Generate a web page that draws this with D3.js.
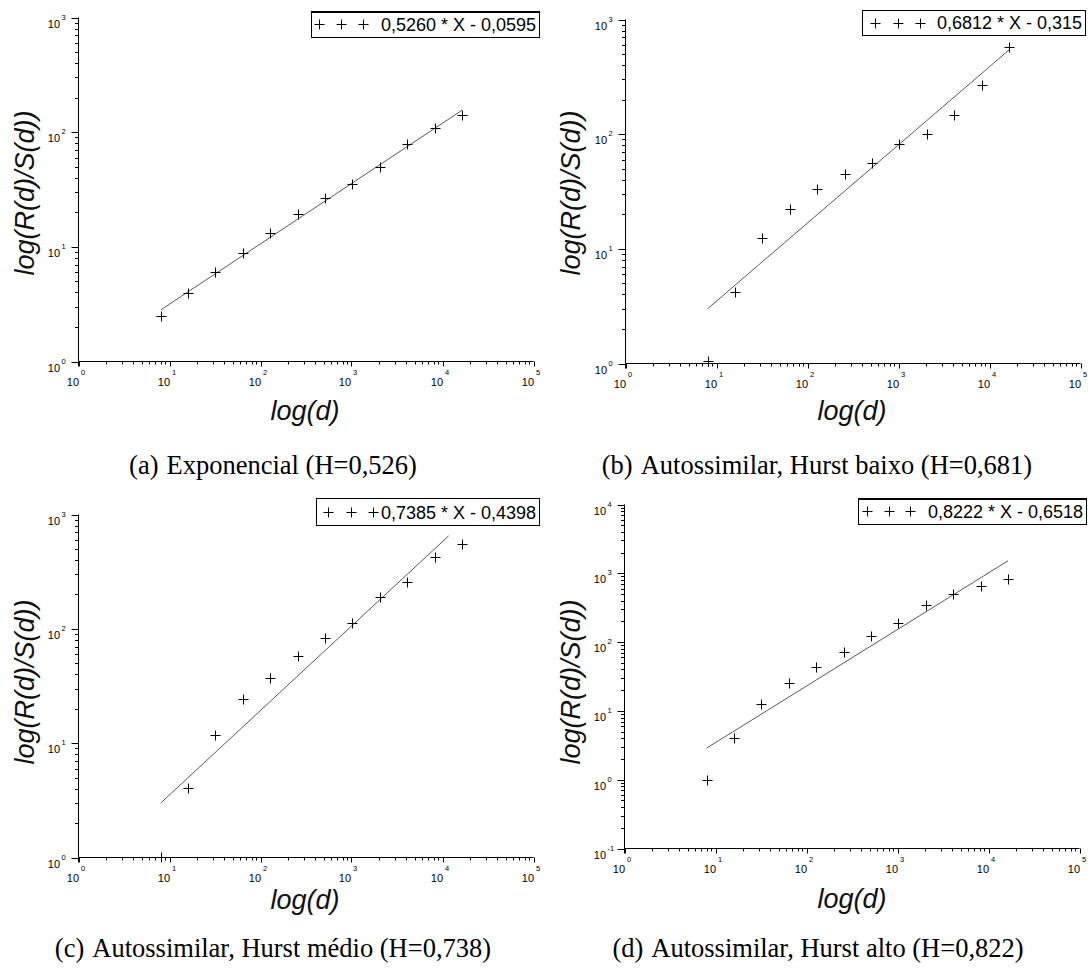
<!DOCTYPE html>
<html>
<head>
<meta charset="utf-8">
<script src="https://cdn.jsdelivr.net/npm/d3@7"></script>
<style>
  html, body { margin: 0; padding: 0; background: #fff; }
  svg { display: block; }
</style>
</head>
<body>
<script>
// ---------------- data ----------------
const dValues = [8, 16, 32, 64, 128, 256, 512, 1024, 2048, 4096, 8192, 16384];
const seriesA = [2.50, 3.96, 6.0, 8.8, 13.1, 19.5, 26.4, 35.1, 50, 79, 108, 142];
const seriesB = [1.05, 4.2, 12.4, 22.1, 33.0, 44.9, 55.6, 81.3, 100.7, 148, 267, 573];
const seriesC = [1.01, 4.05, 11.8, 24.1, 37.3, 57.6, 83.4, 112.8, 191, 259, 426, 553];
const seriesD = [0.98, 4.03, 12.5, 25.5, 43.6, 73, 123, 187, 341, 493, 645, 815];
const fitSlopes = [0.5260, 0.6812, 0.7385, 0.8222];
const fitIntercepts = [-0.0595, -0.315, -0.4398, -0.6518];
const fitEnds = [16384, 16384, 11700, 16384];
const legendLabels = ["0,5260 * X - 0,0595", "0,6812 * X - 0,315", "0,7385 * X - 0,4398", "0,8222 * X - 0,6518"];
const captionLabels = ["(a)", "(b)", "(c)", "(d)"];
const captionTexts = ["Exponencial (H=0,526)", "Autossimilar, Hurst baixo (H=0,681)", "Autossimilar, Hurst médio (H=0,738)", "Autossimilar, Hurst alto (H=0,822)"];
const xTickExps = [0, 1, 2, 3, 4, 5];
const yTickExpsABC = [0, 1, 2, 3];
const yTickExpsD = [-1, 0, 1, 2, 3, 4];
const xTitle = "log(d)";
const yTitle = "log(R(d)/S(d))";

// ---------------- layout ----------------
const W = 1088, H = 969;
const svg = d3.select("body").append("svg").attr("width", W).attr("height", H);

const panels = [
  { series: seriesA, yExps: yTickExpsABC, x0: 78.5, x1: 533.5, yb: 361.5, yt: 17.5,
    box: [311, 11, 539, 37], plus: [319, 341, 363], thick: true,
    xl: [305, 420], yl: [34, 193], cap: [273, 474] },
  { series: seriesB, yExps: yTickExpsABC, x0: 625.5, x1: 1080.5, yb: 363.5, yt: 19.5,
    box: [862, 10, 1085, 35], plus: [874.5, 898, 920], thick: false,
    xl: [852, 420], yl: [580, 193], cap: [817, 474] },
  { series: seriesC, yExps: yTickExpsABC, x0: 78.5, x1: 533.5, yb: 857.5, yt: 514.5,
    box: [316, 498, 539, 525], plus: [328, 351, 373], thick: false,
    xl: [305, 909], yl: [34, 682], cap: [273, 957] },
  { series: seriesD, yExps: yTickExpsD, x0: 624.5, x1: 1079.5, yb: 848.5, yt: 504.5,
    box: [858, 498, 1086, 524], plus: [866.5, 889, 910], thick: true,
    xl: [852, 908], yl: [580, 682], cap: [818, 957] }
];

const sansFont = "'Liberation Sans', Arial, sans-serif";
const serifFont = "'Liberation Serif', 'Times New Roman', serif";

function minorValues(lo, hi) {
  const out = [];
  for (let e = Math.floor(Math.log10(lo)); e < Math.ceil(Math.log10(hi)); e++) {
    for (let m = 2; m <= 9; m++) {
      const v = m * Math.pow(10, e);
      if (v > lo && v < hi) out.push(v);
    }
  }
  return out;
}

function plus(g, cx, cy, r) {
  g.append("path")
    .attr("d", `M${cx - r},${cy}H${cx + r}M${cx},${cy - r}V${cy + r}`)
    .attr("stroke", "#000").attr("stroke-width", 1).attr("fill", "none");
}

panels.forEach((p, i) => {
  const g = svg.append("g");
  const yLo = Math.pow(10, d3.min(p.yExps)), yHi = Math.pow(10, d3.max(p.yExps));
  const x = d3.scaleLog().domain([1, 1e5]).range([p.x0, p.x1]);
  const y = d3.scaleLog().domain([yLo, yHi]).range([p.yb, p.yt]);

  // axes lines
  g.append("line").attr("x1", p.x0).attr("x2", p.x0).attr("y1", p.yt).attr("y2", p.yb + 5)
    .attr("stroke", "#000").attr("stroke-width", 1);
  g.append("line").attr("x1", p.x0).attr("x2", p.x1).attr("y1", p.yb).attr("y2", p.yb)
    .attr("stroke", "#000").attr("stroke-width", 1);

  // x ticks
  xTickExps.forEach(e => {
    const xv = Math.round(x(Math.pow(10, e))) + 0.5;
    g.append("line").attr("x1", xv).attr("x2", xv).attr("y1", p.yb).attr("y2", p.yb + 5)
      .attr("stroke", "#000");
    g.append("text").attr("x", xv).attr("y", p.yb + 24)
      .attr("text-anchor", "end").attr("font-family", sansFont).attr("font-size", 11)
      .attr("letter-spacing", 0.3).text("10");
    g.append("text").attr("x", xv + 1.5).attr("y", p.yb + 13.5)
      .attr("font-family", sansFont).attr("font-size", 7.5).text(String(e));
  });
  minorValues(1, 1e5).forEach(v => {
    const xv = Math.round(x(v)) + 0.5;
    g.append("line").attr("x1", xv).attr("x2", xv).attr("y1", p.yb).attr("y2", p.yb + 3)
      .attr("stroke", "#000");
  });

  // y ticks
  p.yExps.forEach(e => {
    const yv = Math.round(y(Math.pow(10, e))) + 0.5;
    g.append("line").attr("x1", p.x0 - 7).attr("x2", p.x0).attr("y1", yv).attr("y2", yv)
      .attr("stroke", "#000");
    g.append("text").attr("x", p.x0 - 18).attr("y", yv + 9)
      .attr("text-anchor", "end").attr("font-family", sansFont).attr("font-size", 11)
      .attr("letter-spacing", 0.3).text("10");
    g.append("text").attr("x", p.x0 - 17).attr("y", yv + 1)
      .attr("font-family", sansFont).attr("font-size", 7.5).text(String(e));
  });
  minorValues(yLo, yHi).forEach(v => {
    const yv = Math.round(y(v)) + 0.5;
    g.append("line").attr("x1", p.x0 - 3.5).attr("x2", p.x0).attr("y1", yv).attr("y2", yv)
      .attr("stroke", "#000");
  });

  // fit line (from legend coefficients: ln(R/S) = a ln(d) + b)
  const fitDs = [dValues[0], fitEnds[i]];
  const fitLine = d3.line()
    .x(d => x(d))
    .y(d => y(Math.exp(fitSlopes[i] * Math.log(d) + fitIntercepts[i])));
  g.append("path").datum(fitDs).attr("d", fitLine)
    .attr("stroke", "#5a5a5a").attr("stroke-width", 1).attr("fill", "none");

  // data markers
  p.series.forEach((v, k) => {
    plus(g, Math.round(x(dValues[k])) + 0.5, Math.round(y(v)) + 0.5, 5);
  });

  // legend
  const [bx0, by0, bx1, by1] = p.box;
  g.append("rect").attr("x", bx0 + 0.5).attr("y", by0 + 0.5)
    .attr("width", bx1 - bx0).attr("height", by1 - by0)
    .attr("fill", "#fff").attr("stroke", "#000").attr("stroke-width", 1);
  if (p.thick) {
    g.append("path").attr("d", `M${bx0},${by0 + 1.5}H${bx1 + 0.5}V${by1}`)
      .attr("stroke", "#000").attr("stroke-width", 1).attr("fill", "none");
  }
  const ly = Math.round((by0 + by1) / 2) + 0.5;
  p.plus.forEach(px => plus(g, Math.round(px) + 0.5, ly, 5));
  g.append("text").attr("x", bx1 - 3).attr("y", by1 - 6)
    .attr("text-anchor", "end").attr("font-family", sansFont).attr("font-size", 18)
    .text(legendLabels[i]);

  // axis titles
  g.append("text").attr("x", p.xl[0]).attr("y", p.xl[1])
    .attr("text-anchor", "middle").attr("font-family", sansFont).attr("font-style", "italic")
    .attr("font-size", 27).attr("fill", "#111").text(xTitle);
  g.append("text")
    .attr("transform", `translate(${p.yl[0]},${p.yl[1]}) rotate(-90)`)
    .attr("text-anchor", "middle").attr("font-family", sansFont).attr("font-style", "italic")
    .attr("font-size", 27).attr("fill", "#111").text(yTitle);

  // caption
  const cap = g.append("text").attr("x", p.cap[0]).attr("y", p.cap[1])
    .attr("text-anchor", "middle").attr("font-family", serifFont).attr("font-size", 26.5)
    .attr("fill", "#000");
  cap.append("tspan").text(captionLabels[i]);
  cap.append("tspan").attr("dx", 8).text(captionTexts[i]);
});
</script>
</body>
</html>
